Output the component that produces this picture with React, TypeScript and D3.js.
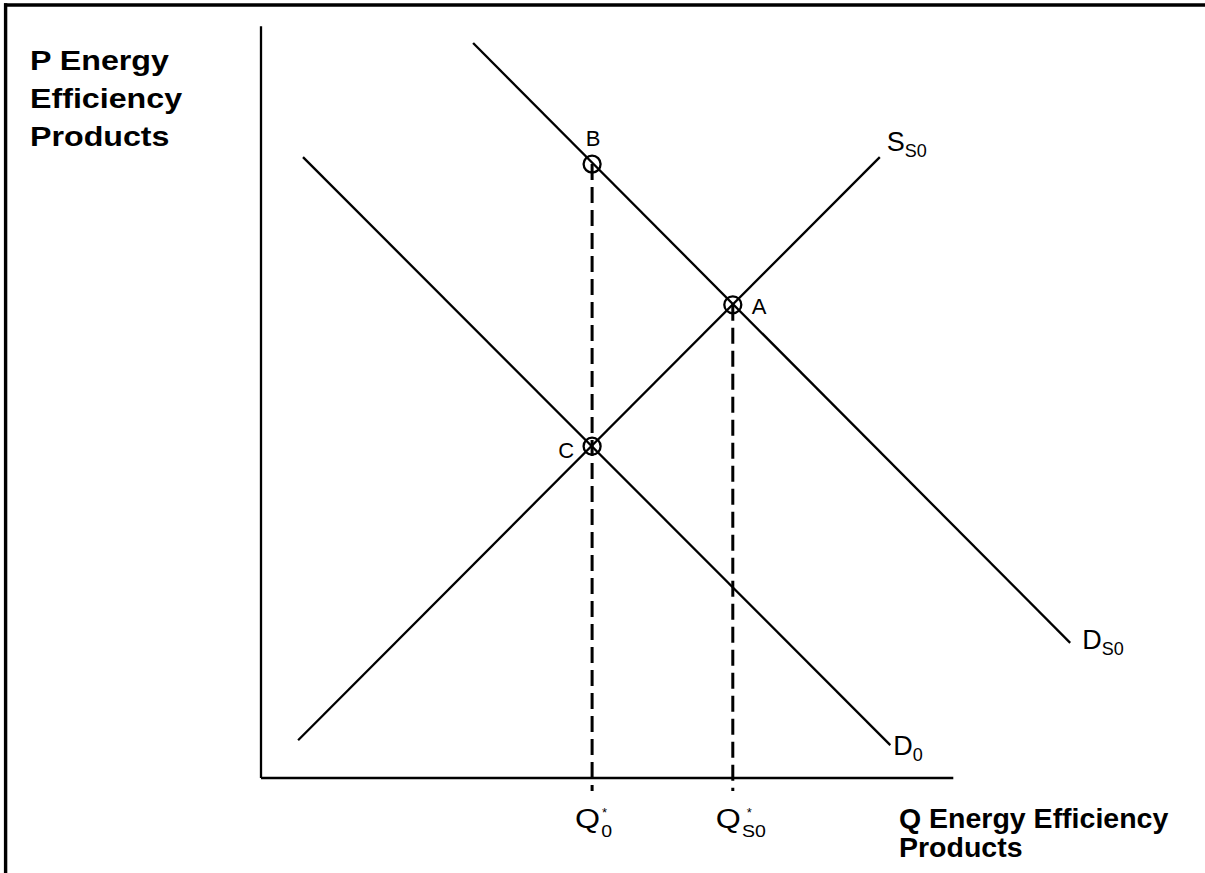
import { useEffect } from "react";
import * as d3 from "d3";

// Supply / demand diagram for energy efficiency products.
// Coordinates are in abstract chart units (origin at the axis corner).

const supplyS0 = [
  { q: 5.3, p: 5.4 },
  { q: 88.4, p: 88.7 },
];
const demandD0 = [
  { q: 6.0, p: 88.7 },
  { q: 89.9, p: 4.7 },
];
const demandDS0 = [
  { q: 30.3, p: 105.0 },
  { q: 115.6, p: 19.3 },
];
const pointNames = ["B", "A", "C"];
const pointQ = [47.3, 67.4, 47.3];
const pointP = [87.7, 67.6, 47.4];
const axisMaxQ = 98.9;
const axisMaxP = 107.4;

const W = 1205;
const H = 873;
const FONT = "'Liberation Sans', Arial, Helvetica, sans-serif";

export default function App() {
  useEffect(() => {
    document.body.style.margin = "0";
    document.body.style.overflow = "hidden";
  }, []);

  const x = d3.scaleLinear().domain([0, 100]).range([261, 961]);
  const y = d3.scaleLinear().domain([0, 100]).range([778, 78]);

  const line = d3
    .line<{ q: number; p: number }>()
    .x((d) => x(d.q))
    .y((d) => y(d.p));

  const points = pointNames.map((name, i) => ({ name, q: pointQ[i], p: pointP[i] }));
  const B = points[0];
  const A = points[1];
  const C = points[2];

  const sEnd = supplyS0[1];
  const d0End = demandD0[1];
  const ds0End = demandDS0[1];

  return (
    <svg width={W} height={H} style={{ display: "block", background: "#fff" }} fontFamily={FONT}>
      {/* frame (only top and left edges show) */}
      <line x1={4} y1={5} x2={W} y2={5} stroke="#000" strokeWidth={3.4} />
      <line x1={5.6} y1={3.3} x2={5.6} y2={H} stroke="#000" strokeWidth={3.4} />

      {/* axes */}
      <line x1={x(0)} y1={y(axisMaxP)} x2={x(0)} y2={y(0)} stroke="#000" strokeWidth={2.3} />
      <line x1={x(0)} y1={y(0)} x2={x(axisMaxQ)} y2={y(0)} stroke="#000" strokeWidth={2.3} />

      {/* dashed drop lines */}
      {[B, A].map((pt) => (
        <line
          key={pt.name}
          x1={x(pt.q)}
          y1={y(pt.p)}
          x2={x(pt.q)}
          y2={y(0) + 13}
          stroke="#000"
          strokeWidth={3}
          strokeDasharray="16 7"
        />
      ))}

      {/* curves */}
      <path d={line(supplyS0) || ""} fill="none" stroke="#000" strokeWidth={2.3} />
      <path d={line(demandD0) || ""} fill="none" stroke="#000" strokeWidth={2.3} />
      <path d={line(demandDS0) || ""} fill="none" stroke="#000" strokeWidth={2.3} />

      {/* equilibrium markers */}
      {points.map((pt) => (
        <circle key={pt.name} cx={x(pt.q)} cy={y(pt.p)} r={8.5} fill="none" stroke="#000" strokeWidth={2.3} />
      ))}

      {/* point labels */}
      <text x={x(B.q) + 1} y={y(B.p) - 18} fontSize={22} textAnchor="middle">B</text>
      <text x={x(A.q) + 19} y={y(A.p) + 9} fontSize={22}>A</text>
      <text x={x(C.q) - 18} y={y(C.p) + 12} fontSize={22} textAnchor="end">C</text>

      {/* curve labels */}
      <text x={x(sEnd.q) + 7} y={y(sEnd.p) - 6} fontSize={27}>
        S<tspan fontSize={18} dy={6}>S0</tspan>
      </text>
      <text x={x(ds0End.q) + 12} y={y(ds0End.p) + 6} fontSize={27}>
        D<tspan fontSize={18} dy={6}>S0</tspan>
      </text>
      <text x={x(d0End.q) + 3} y={y(d0End.p) + 10} fontSize={27}>
        D<tspan fontSize={18} dy={6}>0</tspan>
      </text>

      {/* quantity labels */}
      {[
        { pt: B, sub: "0" },
        { pt: A, sub: "S0" },
      ].map(({ pt, sub }) => {
        const qx = x(pt.q) - 17;
        return (
          <g key={sub}>
            <text x={qx} y={828} fontSize={28} transform={`translate(${qx},0) scale(1.15,1) translate(${-qx},0)`}>
              Q
              <tspan fontSize={17} dx={1} dy={9}>{sub}</tspan>
            </text>
            <text x={qx + (sub === "0" ? 27 : 31)} y={817} fontSize={13}>*</text>
          </g>
        );
      })}

      {/* axis titles */}
      <g transform="translate(30,0) scale(1.15,1)" fontWeight="bold" fontSize={28}>
        <text x={0} y={70}>P Energy</text>
        <text x={0} y={108}>Efficiency</text>
        <text x={0} y={146}>Products</text>
      </g>
      <g fontWeight="bold" fontSize={28.5}>
        <text x={899} y={828}>Q Energy Efficiency</text>
        <text x={899} y={857}>Products</text>
      </g>
    </svg>
  );
}
